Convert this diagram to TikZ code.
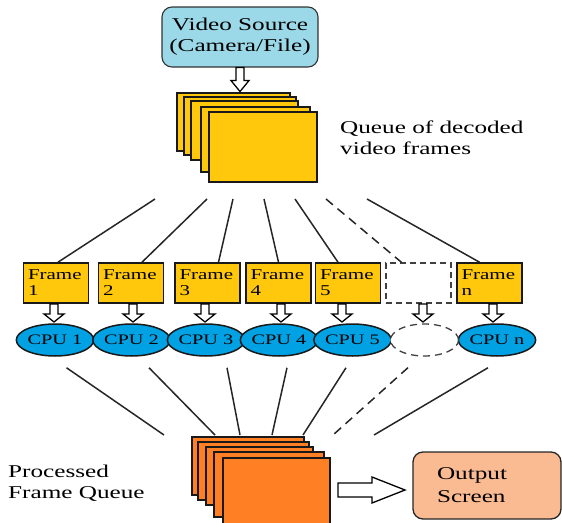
\documentclass[tikz,border=0pt]{standalone}
\usepackage{fontspec}
\setmainfont{Liberation Serif}[FakeStretch=1.4]
\usetikzlibrary{calc,shapes.geometric}
\definecolor{srcblue}{RGB}{155,217,232}
\definecolor{frameyellow}{RGB}{255,200,12}
\definecolor{cpublue}{RGB}{0,162,228}
\definecolor{queueorange}{RGB}{255,128,36}
\definecolor{outorange}{RGB}{250,186,146}
\tikzset{
    stackline/.style={draw=black!90,line width=1.6pt},
    fanline/.style={draw=black!85,line width=1.5pt},
    caption/.style={inner sep=0pt,align=left,font=\fontsize{18}{21}\selectfont},
    srcbox/.style={draw=black!80,line width=1.1pt,rounded corners=10pt,fill=srcblue,
        minimum width=156pt,minimum height=60pt,align=center,font=\fontsize{18}{21}\selectfont},
    outbox/.style={draw=black!85,line width=1.3pt,rounded corners=10pt,fill=outorange,
        minimum height=67pt,text width=100pt,inner xsep=24pt,align=left,font=\fontsize{18}{23}\selectfont},
    framebox/.style={draw=black!90,line width=1.6pt,fill=frameyellow,minimum width=65pt,
        minimum height=40pt,text width=56pt,inner xsep=4pt,inner ysep=0pt,align=left,
        font=\fontsize{15}{16}\selectfont},
    emptybox/.style={draw=black!75,line width=1.3pt,dash pattern=on 6pt off 4pt,
        minimum width=65pt,minimum height=40pt},
    cpu/.style={ellipse,draw=black!90,line width=1.5pt,fill=cpublue,minimum width=68pt,
        minimum height=32pt,inner sep=0pt,font=\fontsize{14.5}{16}\selectfont},
    emptycpu/.style={ellipse,draw=black!75,line width=1.3pt,dash pattern=on 7pt off 5pt,
        fill=white,minimum width=68pt,minimum height=32pt},
    blockline/.style={draw=black,line width=1.3pt,fill=white},
    pics/blockarrow/.style n args={4}{code={
        \draw[blockline] (0,-#3/2) -- ({#1-#2},-#3/2) -- ({#1-#2},-#4/2) -- (#1,0)
            -- ({#1-#2},#4/2) -- ({#1-#2},#3/2) -- (0,#3/2) -- cycle;}}
}
\begin{document}
\begin{tikzpicture}[x=1pt,y=-1pt]
    \useasboundingbox (0,0) rectangle (562,522);
    \clip (0,0) rectangle (562,522);
    %% source and decoded queue
    \node[srcbox] (src) at (240,37) {Video Source\\(Camera/File)};
    \pic[rotate=-90] at (src.south) {blockarrow={24}{11}{8}{18}};
    \foreach \xa/\ya/\xb/\yb in {177/93/290/151,184/97/296/155,191/101/298/160,201/107/310/172,209/112/317/182}
        \draw[stackline,fill=frameyellow] (\xa,\ya) rectangle (\xb,\yb);
    \node[caption,anchor=north west] (qlabel) at (340,121) {Queue of decoded\\video frames};
    %% frames and cpus
    \foreach \i/\fx/\cx/\ax/\n in {1/56/55/54/1,2/131/131.5/133/2,3/207.5/206/205/3,4/278.5/279/281/4,5/348/352.5/342/5,7/489.5/497/493/n} {
        \node[framebox] (f\i) at (\fx,283) {Frame\\\n};
        \pic[rotate=-90] at (\ax,304) {blockarrow={18}{8}{8}{20}};
        \node[cpu] (c\i) at (\cx,340) {CPU \n};
    }
    \node[emptybox] (f6) at (418.5,283) {};
    \pic[rotate=-90] at (423,304) {blockarrow={18}{8}{8}{20}};
    \node[emptycpu] (c6) at (424.5,340) {};
    %% fan out
    \foreach \i/\tx/\dx in {1/155/2,2/207/11,3/233/11,4/264/0,5/295/-10,7/367/-10} {
        \coordinate (qt\i) at (\tx,199);
        \draw[fanline] (qt\i) -- ([xshift=\dx pt]f\i.north);
    }
    \coordinate (qt6) at (326,199);
    \draw[fanline,dash pattern=on 9pt off 6pt] (qt6) -- ([xshift=-17pt]f6.north);
    %% fan in
    \foreach \i/\dx/\ox in {1/11.5/164,2/17.5/215,3/21/240,4/8/272,5/-6.5/303,7/-9/374} {
        \coordinate (oq\i) at (\ox,435);
        \draw[fanline] ([shift={(\dx,11)}]c\i.south) -- (oq\i);
    }
    \coordinate (oq6) at (333,435);
    \draw[fanline,dash pattern=on 9pt off 6pt] ([shift={(-16.5,11)}]c6.south) -- (oq6);
    %% processed queue and output
    \foreach \xa/\ya/\xb/\yb in {192/437/304/495,198/442/309/500,206/447/313/505,214/452/324/517,223/458/330/530}
        \draw[stackline,fill=queueorange] (\xa,\ya) rectangle (\xb,\yb);
    \node[caption,anchor=north west] (plabel) at (8,465) {Processed\\Frame Queue};
    \node[outbox] (out) at (487,485.5) {Output\\Screen};
    \pic at (338,490) {blockarrow={67}{33}{14}{26}};
\end{tikzpicture}
\end{document}
